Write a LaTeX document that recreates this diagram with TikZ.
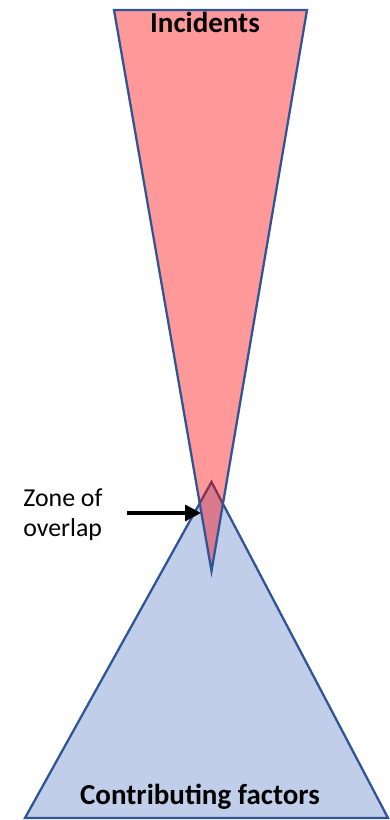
\documentclass[tikz,border=0pt]{standalone}
\usepackage{fontspec}
\setmainfont{Carlito}
\usetikzlibrary{arrows.meta}
\definecolor{edge}{HTML}{2F5597}
\definecolor{skyfill}{HTML}{C0CEEA}
\definecolor{hot}{HTML}{FF0000}
\begin{document}
\begin{tikzpicture}[
  cone/.style={draw=edge,line width=1.3pt,line join=miter},
  title/.style={font=\fontsize{16.5}{20}\selectfont\bfseries,inner sep=0pt,anchor=base},
  note/.style={font=\fontsize{14.7}{17}\selectfont,align=left,inner sep=0pt,anchor=west}]
\useasboundingbox (0,0) rectangle (7.8,16.4);
% contributing factors, widening downwards
\draw[cone,fill=skyfill] (4.23,6.76) -- (7.76,0.04) -- (0.5,0.04) -- cycle;
% incidents, narrowing downwards, see-through over the other
\draw[cone,fill=hot,fill opacity=0.4] (2.28,16.2) -- (6.14,16.2) -- (4.23,4.98) -- cycle;
\node[title] (incidents) at (4.1,15.74) {Incidents};
\node[title] (factors) at (4.0,0.3) {Contributing factors};
\node[note] (zone) at (0.46,6.1) {Zone of\\overlap};
\coordinate (tail) at (2.54,6.14);
\coordinate (tip) at (4.02,6.14);
\draw[-{Triangle[length=3.2mm,width=3.2mm]},line width=1.9pt] (tail) -- (tip);
\end{tikzpicture}
\end{document}
